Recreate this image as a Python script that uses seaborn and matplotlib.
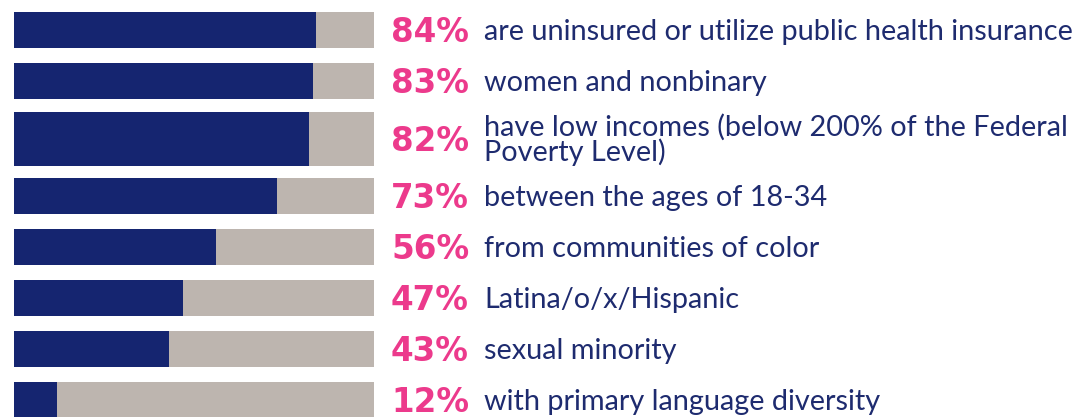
import numpy as np
import pandas as pd
import matplotlib
matplotlib.use("Agg")
import matplotlib.pyplot as plt
import seaborn as sns

# ---- data ----
values = [84, 83, 82, 73, 56, 47, 43, 12]
descriptions = [
    "are uninsured or utilize public health insurance",
    "women and nonbinary",
    "have low incomes (below 200% of the Federal\nPoverty Level)",
    "between the ages of 18-34",
    "from communities of color",
    "Latina/o/x/Hispanic",
    "sexual minority",
    "with primary language diversity",
]
pct_labels = [f"{v}%" for v in values]
total = [100] * len(values)

# ---- style ----
NAVY = "#152570"
TEXT_NAVY = "#1e2b6f"
GRAY = "#bdb5af"
PINK = "#ec3a8c"

sns.set_theme(style="white")
plt.rcParams["font.family"] = ["Lato", "DejaVu Sans"]

W, H, DPI = 1079, 417, 100
PITCH = 50.8          # px between single-line rows
EXTRA = 14.0 / PITCH  # extra row space per additional text line (row units)
BAR_H = 36.0 / PITCH  # bar thickness (row units)
TOP = 30.0            # px centre of first row

nlines = [d.count("\n") + 1 for d in descriptions]
ypos = []
y = 0.0
for i, n in enumerate(nlines):
    if i > 0:
        y += 1 + EXTRA * (nlines[i - 1] - 1) / 2 + EXTRA * (n - 1) / 2
    ypos.append(y)

df = pd.DataFrame({"pos": ypos, "value": values, "total": total})

fig = plt.figure(figsize=(W / DPI, H / DPI), dpi=DPI)
ax = fig.add_axes([14 / W, 0, 360 / W, 1])

sns.barplot(data=df, x="total", y="pos", orient="h", native_scale=True,
            color=GRAY, width=BAR_H, errorbar=None, ax=ax,
            saturation=1, linewidth=0)
sns.barplot(data=df, x="value", y="pos", orient="h", native_scale=True,
            color=NAVY, width=BAR_H, errorbar=None, ax=ax,
            saturation=1, linewidth=0)

# thicker bars for rows with multi-line descriptions
for p in ax.patches:
    c = p.get_y() + p.get_height() / 2
    i = int(np.argmin(np.abs(np.array(ypos) - c)))
    h = BAR_H * (1 + 0.5 * (nlines[i] - 1))
    p.set_y(ypos[i] - h / 2)
    p.set_height(h)

ax.set_xlim(0, 100)
ax.set_ylim((H - TOP) / PITCH, -TOP / PITCH)
ax.set_axis_off()

px = 100 / 360.0  # data units per pixel in x
for i, (yp, lab, desc, n) in enumerate(zip(ypos, pct_labels, descriptions, nlines)):
    ax.text((391 - 14) * px, yp + 12 / PITCH, lab, ha="left", va="baseline",
            fontsize=23.5, fontweight="bold", color=PINK, clip_on=False,
            family=["DejaVu Sans"])
    # va="baseline" anchors the last line's baseline
    ax.text((484 - 14) * px, yp + (10 + 12.5 * (n - 1)) / PITCH, desc,
            ha="left", va="baseline", fontsize=20.8, color=TEXT_NAVY,
            linespacing=0.9, clip_on=False)

fig.savefig("out.png", dpi=DPI)
